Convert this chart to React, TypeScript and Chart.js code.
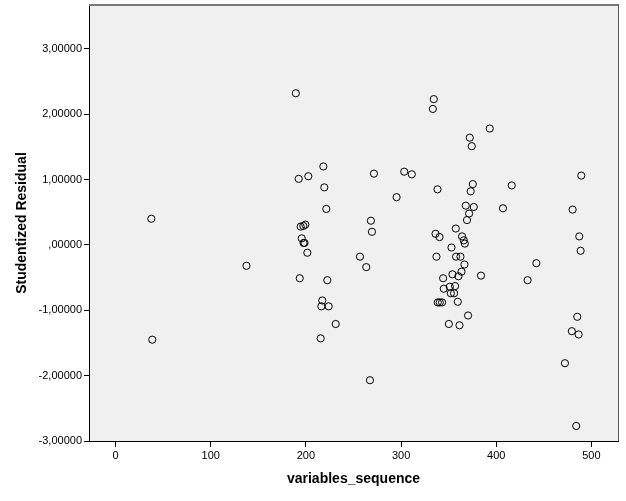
import React, { useEffect, useRef } from "react";
import { Chart, registerables } from "chart.js";

Chart.register(...registerables);

const xValues: number[] = [
  37.5, 38.5, 137.5, 189.4, 192.4, 202.5, 194.5, 197.3, 199.4, 195.6,
  197.5, 198.5, 201.5, 193.5, 218.3, 219.3, 221.4, 222.5, 217.2, 216.2,
  223.9, 231.3, 215.5, 256.8, 263.4, 267.3, 268.3, 269.4, 271.5, 295.3,
  303.3, 311.3, 334.4, 333.4, 338.3, 336.2, 340.4, 337.2, 338.6, 340.7,
  343.1, 344.2, 344.9, 350.2, 351.2, 352.3, 353.0, 354.0, 355.7, 356.8,
  357.5, 357.8, 359.6, 360.3, 361.4, 362.4, 363.5, 364.1, 365.9, 367.0,
  366.6, 368.0, 369.3, 370.4, 371.5, 372.2, 373.2, 374.3, 375.4, 376.4,
  384.0, 393.2, 407.1, 416.3, 433.0, 442.2, 472.2, 479.5, 480.3, 484.1,
  485.2, 486.6, 487.3, 488.7, 489.4,
];

const yValues: number[] = [
  0.40, -1.45, -0.32, 2.32, 1.01, 1.05, 0.28, 0.29, 0.31, 0.10,
  0.03, 0.03, -0.12, -0.51, 1.20, 0.88, 0.55, -0.54, -0.85, -0.94,
  -0.94, -1.21, -1.43, -0.18, -0.34, -2.07, 0.37, 0.20, 1.09, 0.73,
  1.12, 1.08, 2.23, 2.08, 0.85, 0.17, 0.12, -0.18, -0.88, -0.88,
  -0.88, -0.51, -0.67, -1.21, -0.64, -0.74, -0.04, -0.45, -0.74, -0.63,
  0.25, -0.18, -0.87, -0.48, -1.23, -0.18, -0.41, 0.13, 0.07, 0.02,
  -0.30, 0.60, 0.38, -1.08, 0.48, 1.64, 0.82, 1.51, 0.93, 0.58,
  -0.47, 1.78, 0.56, 0.91, -0.54, -0.28, -1.81, -1.32, 0.54, -2.77,
  -1.10, -1.37, 0.13, -0.09, 1.06,
];

const xTicks: number[] = [0, 100, 200, 300, 400, 500];
const yTicks: number[] = [-3, -2, -1, 0, 1, 2, 3];

const xTitle = "variables_sequence";
const yTitle = "Studentized Residual";

const FONT = "'Liberation Sans', Arial, sans-serif";

function fmtY(v: number): string {
  const s = Math.abs(v).toFixed(5).replace(".", ",");
  const t = s.startsWith("0,") ? s.slice(1) : s;
  return (v < 0 ? "-" : "") + t;
}

const plotBg = {
  id: "plotBg",
  beforeDraw(chart: any) {
    const { ctx, chartArea: a } = chart;
    ctx.save();
    ctx.fillStyle = "#f0f0f0";
    ctx.fillRect(a.left, a.top, a.right - a.left, a.bottom - a.top);
    ctx.restore();
  },
  beforeDatasetsDraw(chart: any) {
    const { ctx, chartArea: a } = chart;
    ctx.save();
    ctx.strokeStyle = "#7a7a7a";
    ctx.lineWidth = 2;
    ctx.beginPath();
    ctx.moveTo(a.left, a.top);
    ctx.lineTo(a.right + 1, a.top);
    ctx.stroke();
    ctx.lineWidth = 1;
    ctx.strokeStyle = "#5a5a5a";
    ctx.beginPath();
    ctx.moveTo(a.right + 0.5, a.top - 1);
    ctx.lineTo(a.right + 0.5, a.bottom);
    ctx.stroke();
    ctx.restore();
  },
};

export default function App() {
  const ref = useRef<HTMLCanvasElement | null>(null);

  useEffect(() => {
    if (!ref.current) return;
    const data = xValues.map((x, i) => ({ x, y: yValues[i] }));
    const chart = new Chart(ref.current, {
      type: "scatter",
      data: {
        datasets: [
          {
            data,
            pointRadius: 3.6,
            pointHoverRadius: 3.6,
            pointBorderWidth: 1,
            pointBorderColor: "#000",
            pointBackgroundColor: "rgba(0,0,0,0)",
          },
        ],
      },
      options: {
        responsive: false,
        animation: false,
        devicePixelRatio: 1,
        layout: { padding: { top: 5, right: 8, left: 0, bottom: 0 } },
        plugins: {
          legend: { display: false },
          tooltip: { enabled: false },
        },
        scales: {
          x: {
            type: "linear",
            position: "bottom",
            min: -28,
            max: 528,
            afterBuildTicks: (s: any) => {
              s.ticks = xTicks.map((v) => ({ value: v }));
            },
            afterFit: (s: any) => {
              s.height = 60;
              s.paddingLeft = 0;
              s.paddingRight = 0;
            },
            grid: {
              drawOnChartArea: false,
              drawTicks: true,
              tickLength: 6,
              color: "#000",
            },
            border: { display: true, color: "#000", width: 1 },
            ticks: {
              padding: 2,
              color: "#000",
              maxRotation: 0,
              autoSkip: false,
              font: { family: FONT, size: 11 },
              callback: (v: any) => String(v),
            },
            title: {
              display: true,
              text: xTitle,
              color: "#000",
              font: { family: FONT, size: 14, weight: "bold" },
              padding: { top: 0, bottom: 13.6 },
            },
          },
          y: {
            type: "linear",
            position: "left",
            min: -3,
            max: 3.67,
            afterBuildTicks: (s: any) => {
              s.ticks = yTicks.map((v) => ({ value: v }));
            },
            afterFit: (s: any) => {
              s.width = 89;
              s.paddingTop = 0;
              s.paddingBottom = 0;
            },
            grid: {
              drawOnChartArea: false,
              drawTicks: true,
              tickLength: 5,
              color: "#000",
            },
            border: { display: true, color: "#000", width: 1 },
            ticks: {
              padding: 2,
              color: "#000",
              autoSkip: false,
              font: { family: FONT, size: 11 },
              callback: (v: any) => fmtY(Number(v)),
            },
            title: {
              display: true,
              text: yTitle,
              color: "#000",
              font: { family: FONT, size: 14, weight: "bold" },
              padding: { top: 13.6, bottom: 0 },
            },
          },
        },
      },
      plugins: [plotBg],
    } as any);
    return () => chart.destroy();
  }, []);

  return (
    <div style={{ position: "absolute", left: 0, top: 0, width: 626, height: 501, background: "#fff" }}>
      <canvas ref={ref} width={626} height={501} style={{ display: "block" }} />
    </div>
  );
}
